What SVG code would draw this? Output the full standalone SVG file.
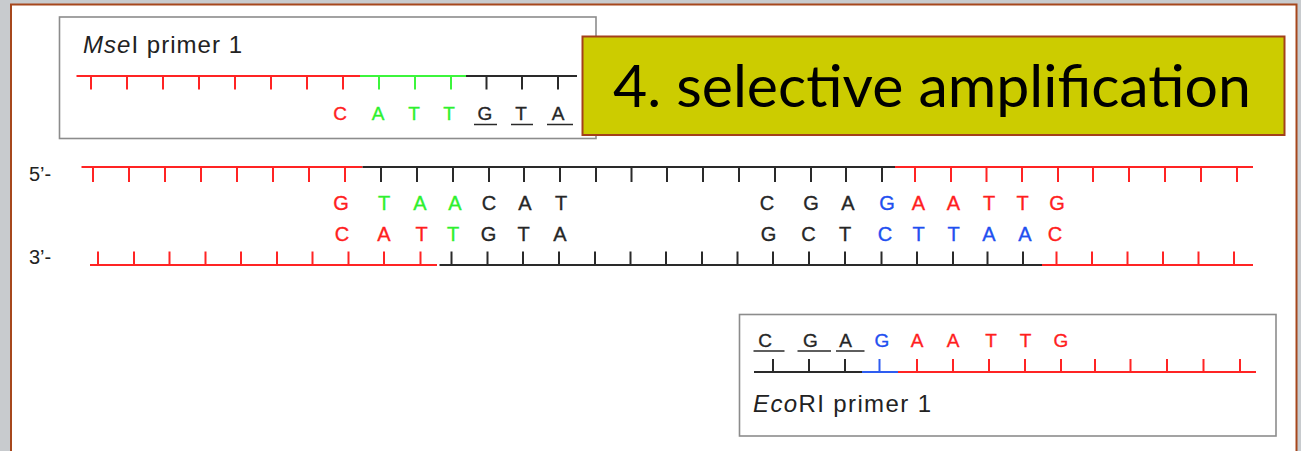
<svg xmlns="http://www.w3.org/2000/svg" width="1301" height="451" viewBox="0 0 1301 451">
  <style>
    .lbl { font-family: "Liberation Sans", Arial, sans-serif; fill: #222; }
    .base { font-family: "Liberation Sans", Arial, sans-serif; font-size: 20px; text-anchor: middle; stroke-width: 0.35; }
    .pbase { font-family: "Liberation Sans", Arial, sans-serif; font-size: 19px; text-anchor: middle; stroke-width: 0.35; }
    .r { fill: #ff1e1e; stroke: #ff1e1e; }
    .g { fill: #2ef02e; stroke: #2ef02e; }
    .b { fill: #1f4ff0; stroke: #1f4ff0; }
    .k { fill: #262626; stroke: #262626; }
    .sr { stroke: #ff2424; }
    .sg { stroke: #3cf53c; }
    .sb { stroke: #2e5cf0; }
    .sk { stroke: #2a2a2a; }
    .strand { fill: none; stroke-width: 2; }
    .tick { fill: none; stroke-width: 2; }
    .ul { stroke: #2a2a2a; stroke-width: 1.6; }
    .box { fill: #ffffff; stroke: #8c8c8c; stroke-width: 1.6; }
  </style>

  <!-- slide background and frame -->
  <rect x="0" y="0" width="1301" height="451" fill="#c8cbce"/>
  <rect id="panel" x="11" y="4.5" width="1285.5" height="460" fill="#ffffff" stroke="#a6471c" stroke-width="2"/>

  <!-- MseI primer -->
  <g id="mse-primer">
    <rect class="box" x="59.5" y="17" width="536.5" height="121.5"/>
    <text class="lbl" x="83" y="52.5" font-size="24" textLength="159" lengthAdjust="spacing"><tspan font-style="italic">Mse</tspan>I primer 1</text>
    <path class="strand sr" d="M76.5 76H360"/>
    <path class="strand sg" d="M360 76H466"/>
    <path class="strand sk" d="M466 76H577"/>
    <path class="tick sr" d="M91 76V89.5M127 76V89.5M163 76V89.5M199 76V89.5M235 76V89.5M271 76V89.5M307 76V89.5M343 76V89.5"/>
    <path class="tick sg" d="M379 76V89.5M415 76V89.5M451 76V89.5"/>
    <path class="tick sk" d="M486.5 76V89.5M522 76V89.5M558 76V89.5"/>
    <text class="pbase r" x="340" y="120">C</text>
    <text class="pbase g" x="378" y="120">A</text>
    <text class="pbase g" x="414" y="120">T</text>
    <text class="pbase g" x="449" y="120">T</text>
    <text class="pbase k" x="485" y="120">G</text>
    <text class="pbase k" x="521" y="120">T</text>
    <text class="pbase k" x="558" y="120">A</text>
    <path class="ul" d="M474 124.5H497M511 124.5H533M547 124.5H573"/>
  </g>

  <!-- step title -->
  <g id="title">
    <rect x="582.5" y="36.5" width="702" height="98.5" fill="#cccc00" stroke="#a3401a" stroke-width="2"/>
    <text x="613" y="106.5" font-family="Lato, 'Open Sans', sans-serif" font-size="58" fill="#000" textLength="638" lengthAdjust="spacingAndGlyphs">4. selective amplification</text>
  </g>

  <!-- double-stranded template -->
  <g id="template">
    <text class="lbl" x="29" y="181" font-size="20" fill="#333">5’-</text>
    <text class="lbl" x="29" y="263.5" font-size="20" fill="#333">3’-</text>

    <!-- top strand -->
    <path class="strand sr" d="M81.5 167H362.5"/>
    <path class="strand sk" d="M362.5 167H895"/>
    <path class="strand sr" d="M895 167H1253"/>
    <path class="tick sr" d="M93 167V182M129 167V182M165 167V182M201 167V182M237 167V182M273 167V182M309 167V182M345 167V182"/>
    <path class="tick sk" d="M381 167V182M417 167V182M453 167V182M489 167V182M524 167V182M560 167V182M596 167V182M631.5 167V182M667 167V182M703 167V182M739 167V182M775 167V182M811 167V182M846 167V182M882 167V182"/>
    <path class="tick sr" d="M915 167V182M951 167V182M986.5 167V182M1022 167V182M1058 167V182M1093 167V182M1129 167V182M1165 167V182M1201 167V182M1237 167V182"/>

    <!-- top strand bases -->
    <text class="base r" x="341" y="209.5">G</text>
    <text class="base g" x="384" y="209.5">T</text>
    <text class="base g" x="420" y="209.5">A</text>
    <text class="base g" x="455" y="209.5">A</text>
    <text class="base k" x="489" y="209.5">C</text>
    <text class="base k" x="525" y="209.5">A</text>
    <text class="base k" x="561" y="209.5">T</text>
    <text class="base k" x="767" y="209.5">C</text>
    <text class="base k" x="811" y="209.5">G</text>
    <text class="base k" x="848" y="209.5">A</text>
    <text class="base b" x="887" y="209.5">G</text>
    <text class="base r" x="918.5" y="209.5">A</text>
    <text class="base r" x="953.5" y="209.5">A</text>
    <text class="base r" x="989" y="209.5">T</text>
    <text class="base r" x="1022.5" y="209.5">T</text>
    <text class="base r" x="1057" y="209.5">G</text>

    <!-- bottom strand bases -->
    <text class="base r" x="342" y="240.5">C</text>
    <text class="base r" x="384" y="240.5">A</text>
    <text class="base r" x="421.5" y="240.5">T</text>
    <text class="base g" x="453" y="240.5">T</text>
    <text class="base k" x="488.5" y="240.5">G</text>
    <text class="base k" x="523.5" y="240.5">T</text>
    <text class="base k" x="560" y="240.5">A</text>
    <text class="base k" x="768.5" y="240.5">G</text>
    <text class="base k" x="808.5" y="240.5">C</text>
    <text class="base k" x="845" y="240.5">T</text>
    <text class="base b" x="885" y="240.5">C</text>
    <text class="base b" x="918.5" y="240.5">T</text>
    <text class="base b" x="953.5" y="240.5">T</text>
    <text class="base b" x="989" y="240.5">A</text>
    <text class="base b" x="1025" y="240.5">A</text>
    <text class="base r" x="1055" y="240.5">C</text>

    <!-- bottom strand -->
    <path class="strand sr" d="M90 265H437"/>
    <path class="strand sk" d="M439.5 265H1042"/>
    <path class="strand sr" d="M1042 265H1253"/>
    <path class="tick sr" d="M98 251.5V265M134 251.5V265M169.5 251.5V265M205.5 251.5V265M241 251.5V265M277 251.5V265M312.5 251.5V265M348.5 251.5V265M384 251.5V265M420.5 251.5V265"/>
    <path class="tick sk" d="M451.5 251.5V265M487.5 251.5V265M523 251.5V265M559 251.5V265M595 251.5V265M630.5 251.5V265M666 251.5V265M702 251.5V265M737.5 251.5V265M773 251.5V265M809 251.5V265M845 251.5V265M881.5 251.5V265M917 251.5V265M953 251.5V265M987.5 251.5V265M1023 251.5V265"/>
    <path class="tick sr" d="M1056.5 251.5V265M1092 251.5V265M1127.5 251.5V265M1163 251.5V265M1198.5 251.5V265M1234 251.5V265"/>
  </g>

  <!-- EcoRI primer -->
  <g id="eco-primer">
    <rect class="box" x="739.5" y="314.5" width="536.5" height="121.5"/>
    <text class="pbase k" x="765" y="346.5">C</text>
    <text class="pbase k" x="810.5" y="346.5">G</text>
    <text class="pbase k" x="845.5" y="346.5">A</text>
    <text class="pbase b" x="882" y="346.5">G</text>
    <text class="pbase r" x="917" y="346.5">A</text>
    <text class="pbase r" x="953" y="346.5">A</text>
    <text class="pbase r" x="991" y="346.5">T</text>
    <text class="pbase r" x="1025.5" y="346.5">T</text>
    <text class="pbase r" x="1061" y="346.5">G</text>
    <path class="ul" d="M753.5 351H784.5M797.5 351H831M836 351H864.5"/>
    <path class="strand sk" d="M754 372H862"/>
    <path class="strand sb" d="M862 372H898"/>
    <path class="strand sr" d="M898 372H1256"/>
    <path class="tick sk" d="M773 359V372M809 359V372M845 359V372"/>
    <path class="tick sb" d="M879.5 359V372"/>
    <path class="tick sr" d="M917 359V372M953 359V372M989 359V372M1025 359V372M1061 359V372M1095 359V372M1130.5 359V372M1167 359V372M1203.5 359V372M1240 359V372"/>
    <text class="lbl" x="753" y="411.5" font-size="24" textLength="178" lengthAdjust="spacing"><tspan font-style="italic">Eco</tspan>RI primer 1</text>
  </g>
</svg>
